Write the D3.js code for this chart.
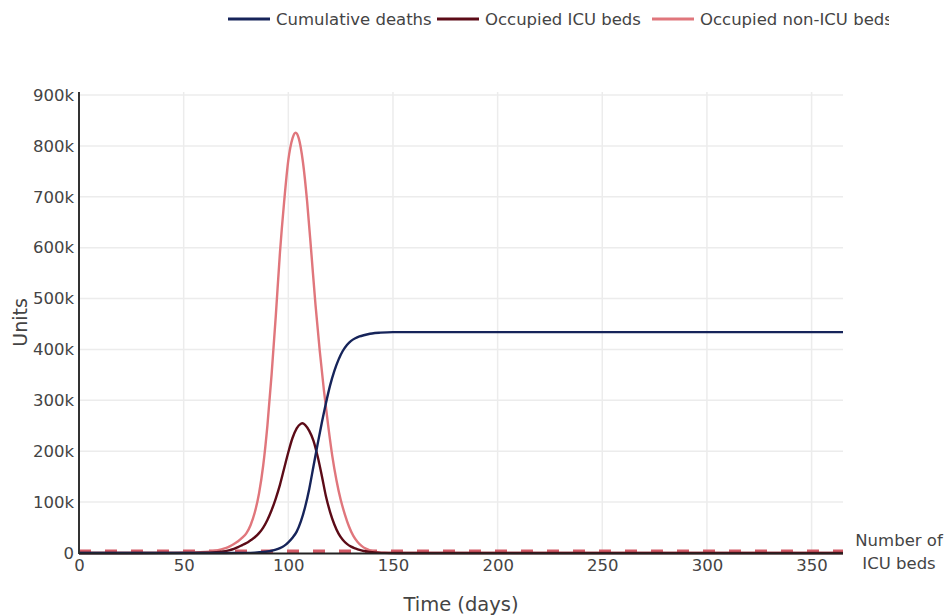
<!DOCTYPE html>
<html>
<head>
<meta charset="utf-8">
<script src="https://cdn.jsdelivr.net/npm/d3@7"></script>
<style>
  html, body { margin: 0; padding: 0; background: #fff; }
  svg { display: block; font-family: "DejaVu Sans", Verdana, sans-serif; }
</style>
</head>
<body>
<svg id="chart" width="949" height="616"></svg>
<script>
// Epidemic projection: deaths and hospital bed occupancy over one year
const seriesNames = ["Cumulative deaths", "Occupied ICU beds", "Occupied non-ICU beds"];

// Cumulative deaths (persons)
const deathDays   = [0, 70, 80, 84, 88, 90, 92, 94, 96, 98, 100, 102, 104, 106, 108, 110, 112, 114, 116, 118, 120, 122, 124, 126, 128, 130, 132, 134, 136, 138, 140, 144, 150, 200, 365];
const deathValues = [0, 100, 300, 800, 2000, 3000, 4500, 6500, 9500, 14000, 21000, 30000, 42000, 62000, 90000, 126000, 170000, 214000, 256000, 295000, 330000, 358000, 380000, 397000, 409000, 417000, 422000, 425500, 428000, 430000, 431500, 433000, 434000, 434000, 434000];

// Occupied ICU beds
const icuDays   = [0, 55, 60, 64, 67, 70, 72, 74, 76, 78, 80, 82, 84, 86, 88, 90, 92, 94, 96, 98, 100, 102, 104, 106, 106.7, 108, 110, 112, 114, 116, 118, 120, 122, 124, 126, 128, 130, 132, 134, 136, 138, 140, 143, 147, 152, 365];
const icuValues = [0, 200, 500, 1100, 2100, 3700, 5500, 8000, 11500, 15500, 19500, 25000, 31000, 39000, 50000, 65000, 84000, 107000, 134000, 166000, 198000, 226000, 245000, 254000, 255000, 252000, 240000, 221000, 190000, 152000, 111000, 80000, 56000, 38000, 26000, 18000, 12500, 9000, 6000, 4000, 2600, 1600, 700, 200, 0, 0];

// Occupied non-ICU beds
const wardDays   = [0, 40, 50, 55, 60, 62, 64, 66, 68, 70, 72, 74, 76, 78, 80, 82, 84, 86, 88, 90, 92, 94, 96, 98, 100, 102, 103.5, 105, 107, 109, 111, 113, 115, 117, 119, 121, 123, 125, 127, 129, 131, 133, 135, 137, 139, 141, 143, 146, 150, 365];
const wardValues = [0, 200, 600, 1200, 2200, 2800, 3700, 5000, 7000, 9500, 13000, 17500, 23000, 30000, 39000, 55000, 80000, 117000, 172000, 250000, 350000, 465000, 590000, 690000, 772000, 815000, 826000, 815000, 768000, 690000, 590000, 487000, 398000, 320000, 252000, 191000, 143000, 105000, 76000, 52000, 34000, 22000, 14000, 8500, 5000, 2800, 1300, 400, 0, 0];

// Number of ICU beds available
const icuCapacityDays  = [0, 365];
const icuCapacityValue = [3500, 3500];

const xTicks = [0, 50, 100, 150, 200, 250, 300, 350];
const yTicks = [0, 100000, 200000, 300000, 400000, 500000, 600000, 700000, 800000, 900000];

const colors = ["#16245a", "#5c0b17", "#e0767c"];
const capacityColor = "#d45a66";

const svg = d3.select("#chart");
const plotLeft = 79, plotRight = 843, plotTop = 92, plotBottom = 553;

const x = d3.scaleLinear().domain([0, 365]).range([plotLeft, plotRight]);
const y = d3.scaleLinear().domain([0, 906000]).range([plotBottom, plotTop]);

// grid
const grid = svg.append("g");
grid.selectAll("line.vx").data(xTicks.filter(d => d > 0)).join("line")
  .attr("x1", d => x(d)).attr("x2", d => x(d))
  .attr("y1", plotTop).attr("y2", plotBottom)
  .attr("stroke", "#ececec").attr("stroke-width", 1.5);
grid.selectAll("line.hy").data(yTicks.filter(d => d > 0)).join("line")
  .attr("x1", plotLeft).attr("x2", plotRight)
  .attr("y1", d => y(d)).attr("y2", d => y(d))
  .attr("stroke", "#ececec").attr("stroke-width", 1.5);

// axes
const fmtY = d => d === 0 ? "0" : (d / 1000) + "k";
const yAxis = svg.append("g").attr("transform", `translate(${plotLeft},0)`)
  .call(d3.axisLeft(y).tickValues(yTicks).tickFormat(fmtY).tickSize(0).tickPadding(5));
yAxis.select(".domain").remove();
yAxis.selectAll("text").attr("font-size", 16.5).attr("fill", "#444")
  .attr("font-family", "DejaVu Sans, sans-serif");

const xAxis = svg.append("g").attr("transform", `translate(0,${plotBottom})`)
  .call(d3.axisBottom(x).tickValues(xTicks).tickFormat(d3.format("d")).tickSize(0).tickPadding(6));
xAxis.select(".domain").remove();
xAxis.selectAll("text").attr("font-size", 16.5).attr("fill", "#444")
  .attr("font-family", "DejaVu Sans, sans-serif");

// series lines
const line = d3.line()
  .x(d => x(d[0]))
  .y(d => y(d[1]))
  .curve(d3.curveMonotoneX);
const series = [
  d3.zip(deathDays, deathValues),
  d3.zip(icuDays, icuValues),
  d3.zip(wardDays, wardValues)
];

// ICU capacity (dashed)
svg.append("path")
  .datum(d3.zip(icuCapacityDays, icuCapacityValue))
  .attr("d", d3.line().x(d => x(d[0])).y(d => y(d[1])))
  .attr("fill", "none").attr("stroke", capacityColor)
  .attr("stroke-width", 3.5).attr("stroke-dasharray", "12,14");

[2, 1, 0].forEach(i => {
  svg.append("path").datum(series[i])
    .attr("d", line)
    .attr("fill", "none")
    .attr("stroke", colors[i])
    .attr("stroke-width", 2.4)
    .attr("stroke-linejoin", "round");
});

// axis lines
svg.append("line").attr("x1", plotLeft).attr("x2", plotLeft).attr("y1", plotTop).attr("y2", plotBottom + 1)
  .attr("stroke", "#333").attr("stroke-width", 2);
svg.append("line").attr("x1", plotLeft).attr("x2", plotRight).attr("y1", plotBottom + 0.5).attr("y2", plotBottom + 0.5)
  .attr("stroke", "#222").attr("stroke-width", 2);

// axis titles
svg.append("text").attr("x", (plotLeft + plotRight) / 2).attr("y", 611)
  .attr("text-anchor", "middle").attr("font-size", 19.5).attr("fill", "#444")
  .text("Time (days)");
svg.append("text")
  .attr("transform", `translate(27,${(plotTop + plotBottom) / 2}) rotate(-90)`)
  .attr("text-anchor", "middle").attr("font-size", 19).attr("fill", "#444")
  .text("Units");

// capacity label
const capLabel = svg.append("text").attr("x", 899).attr("text-anchor", "middle")
  .attr("font-size", 16.5).attr("fill", "#444");
capLabel.append("tspan").attr("x", 899).attr("y", 546).text("Number of");
capLabel.append("tspan").attr("x", 899).attr("y", 569).text("ICU beds");

// legend (clipped at the right edge of its box)
svg.append("clipPath").attr("id", "legendClip")
  .append("rect").attr("x", 0).attr("y", 0).attr("width", 889).attr("height", 45);
const legend = svg.append("g").attr("clip-path", "url(#legendClip)");
const legendX = [228, 437, 652];
seriesNames.forEach((name, i) => {
  const g = legend.append("g").attr("transform", `translate(${legendX[i]},19)`);
  g.append("line").attr("x1", 0).attr("x2", 42).attr("y1", 0).attr("y2", 0)
    .attr("stroke", colors[i]).attr("stroke-width", 3);
  g.append("text").attr("x", 48).attr("y", 6).attr("font-size", 16.5)
    .attr("fill", "#444").text(name);
});
</script>
</body>
</html>
